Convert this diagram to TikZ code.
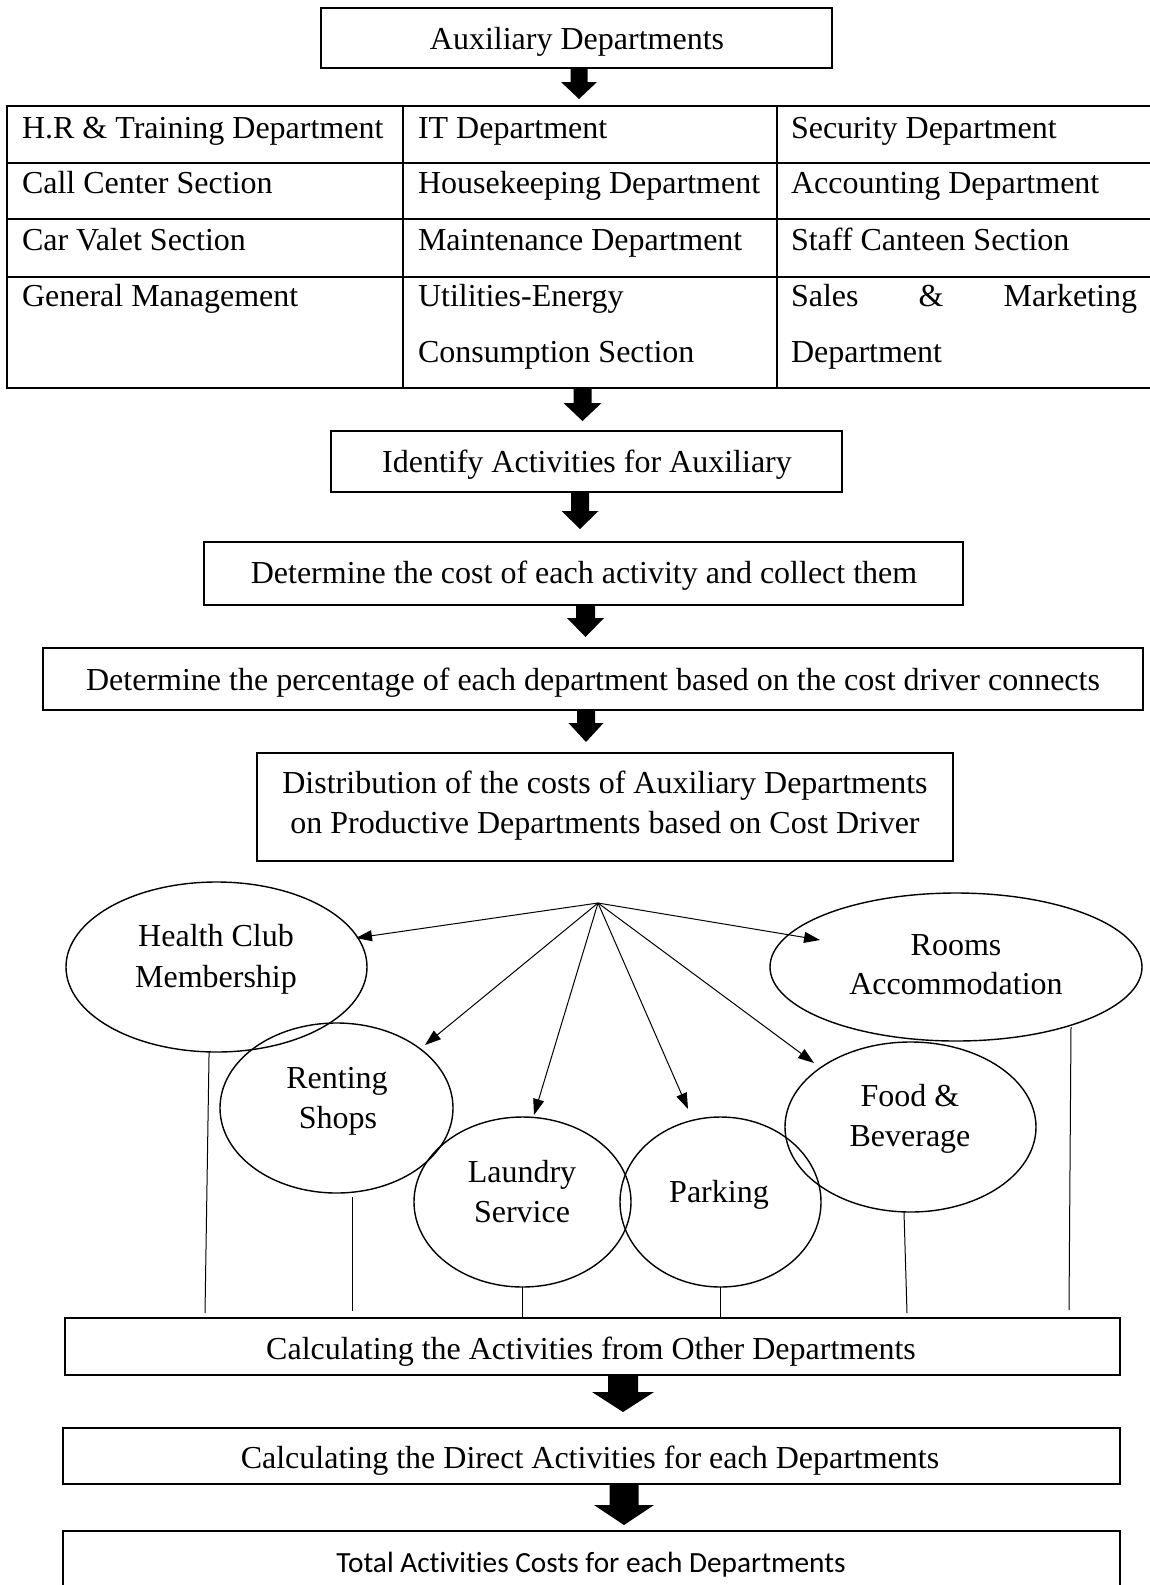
\documentclass[tikz,border=0pt]{standalone}
\usepackage{fontspec}
\setmainfont{Liberation Serif}
\newfontfamily\sansB[Ligatures=CommonOff]{Carlito}
\usetikzlibrary{shapes.geometric,arrows.meta,calc}
\tikzset{
  bx/.style={draw, line width=1pt, inner sep=0pt, outer sep=0pt, rectangle},
  ell/.style={draw, ellipse, line width=0.7pt, inner sep=0pt, outer sep=0pt},
  tx/.style={inner sep=0pt, outer sep=0pt, font=\fontsize{16pt}{20pt}\selectfont, anchor=base},
  tl/.style={tx, anchor=base west},
  thinarr/.style={line width=0.5pt, -{Triangle[length=8pt,width=5.5pt]}},
  thinln/.style={line width=0.5pt},
  gridln/.style={line width=1pt},
}
% #1 from node, #2 x centre, #3 head start y, #4 tip y, #5 half shaft, #6 half head
\newcommand{\blockarrow}[6]{%
  \coordinate (tmpx) at (#2,0);
  \fill ($(#1.south -| tmpx)+(-#5,0)$) -- (#2-#5,#3) -- (#2-#6,#3) -- (#2,#4)
     -- (#2+#6,#3) -- (#2+#5,#3) -- ($(#1.south -| tmpx)+(#5,0)$) -- cycle;}
\begin{document}
\begin{tikzpicture}[x=0.5pt,y=-0.5pt]
\useasboundingbox (0,0) rectangle (1150,1585);
\fill[white] (0,0) rectangle (1150,1585);

% top box
\node[bx, minimum width=255.5pt, minimum height=30pt] (aux) at (576.5,38) {};
\node[tx] (auxt) at (577,49) {Auxiliary Departments};

% table
\node[inner sep=0pt, outer sep=0pt, minimum width=576.5pt, minimum height=141pt] (table) at (583.5,247) {};
\draw[gridln] (1160,106) -- (7,106) -- (7,388) -- (1160,388);
\draw[gridln] (7,163) -- (1160,163) (7,219) -- (1160,219) (7,277) -- (1160,277);
\draw[gridln] (403,106) -- (403,388) (777,106) -- (777,388);
\node[tl] (c11) at (22,138) {H.R \& Training Department};
\node[tl] (c12) at (418,138) {IT Department};
\node[tl] (c13) at (791,138) {Security Department};
\node[tl] (c21) at (22,193) {Call Center Section};
\node[tl] (c22) at (418,193) {Housekeeping Department};
\node[tl] (c23) at (791,193) {Accounting Department};
\node[tl] (c31) at (22,250) {Car Valet Section};
\node[tl] (c32) at (418,250) {Maintenance Department};
\node[tl] (c33) at (791,250) {Staff Canteen Section};
\node[tl] (c41) at (22,306) {General Management};
\node[tl] (c42) at (418,306) {Utilities-Energy};
\node[tl] (c42b) at (418,362) {Consumption Section};
\node[tl] (c43) at (791,306) {\hbox to 173pt{Sales\hfill\&\hfill Marketing}};
\node[tl] (c43b) at (791,362) {Department};

% flow boxes
\node[bx, minimum width=255.5pt, minimum height=30.5pt] (ident) at (586.5,461.5) {};
\node[tx] (identt) at (587,472) {Identify Activities for Auxiliary};
\node[bx, minimum width=379.5pt, minimum height=31.5pt] (cost) at (583.5,573.5) {};
\node[tx] (costt) at (584,583) {Determine the cost of each activity and collect them};
\node[bx, minimum width=550pt, minimum height=31pt] (perc) at (593,679) {};
\node[tx] (perct) at (593,690) {Determine the percentage of each department based on the cost driver connects};
\node[bx, minimum width=348pt, minimum height=54pt] (dist) at (605,807) {};
\node[tx] (distt1) at (605,793) {Distribution of the costs of Auxiliary Departments};
\node[tx] (distt2) at (605,833) {on Productive Departments based on Cost Driver};

% block arrows
\blockarrow{aux}{579}{82}{99}{8.5}{18}
\blockarrow{table}{582.5}{403}{421}{9}{19}
\blockarrow{ident}{580}{511}{529}{9}{18.5}
\blockarrow{cost}{585.5}{618}{637}{9.5}{18.5}
\blockarrow{perc}{586}{723}{742}{9}{17.5}

% ellipses
\node[ell, minimum width=150.5pt, minimum height=85pt] (hc) at (216.5,967) {};
\node[tx] (hct1) at (216,946) {Health Club};
\node[tx] (hct2) at (216,987) {Membership};
\node[ell, minimum width=186pt, minimum height=74pt] (rooms) at (956,967) {};
\node[tx] (roomst1) at (956,955) {Rooms};
\node[tx] (roomst2) at (956,994) {Accommodation};
\node[ell, minimum width=116.5pt, minimum height=85pt] (rent) at (336.5,1108) {};
\node[tx] (rentt1) at (337,1088) {Renting};
\node[tx] (rentt2) at (338,1128) {Shops};
\node[ell, minimum width=108.5pt, minimum height=85pt] (laun) at (522.5,1202) {};
\node[tx] (launt1) at (522,1182) {Laundry};
\node[tx] (launt2) at (522,1222) {Service};
\node[ell, minimum width=100.5pt, minimum height=85pt] (park) at (720.5,1202) {};
\node[tx] (parkt) at (719,1202) {Parking};
\node[ell, minimum width=125.5pt, minimum height=85pt] (food) at (910.5,1127) {};
\node[tx] (foodt1) at (910,1106) {Food \&};
\node[tx] (foodt2) at (910,1146) {Beverage};

% hub arrows
\coordinate (hub) at (598,903);
\coordinate (tHC) at (356,938);
\coordinate (tRooms) at (820,940);
\coordinate (tRent) at (425,1045);
\coordinate (tLaun) at (534,1115);
\coordinate (tPark) at (688,1109);
\coordinate (tFood) at (814,1063);
\draw[thinarr] (hub) -- (tHC);
\draw[thinarr] (hub) -- (tRooms);
\draw[thinarr] (hub) -- (tRent);
\draw[thinarr] (hub) -- (tLaun);
\draw[thinarr] (hub) -- (tPark);
\draw[thinarr] (hub) -- (tFood);

% lower boxes
\node[bx, minimum width=527.5pt, minimum height=28.5pt] (other) at (592.5,1346.5) {};
\node[tx] (othert) at (591,1359) {Calculating the Activities from Other Departments};
\node[bx, minimum width=528.5pt, minimum height=28pt] (direct) at (591.5,1456) {};
\node[tx] (directt) at (590,1468) {Calculating the Direct Activities for each Departments};
\node[inner sep=0pt, outer sep=0pt, minimum width=528.5pt, minimum height=28pt] (total) at (591.5,1559) {};
\draw[gridln] (total.south west) |- (total.north east) -- (total.south east);
\node[inner sep=0pt, anchor=base, font=\sansB\fontsize{14.65pt}{18pt}\selectfont] (totalt) at (591,1572) {Total Activities Costs for each Departments};

% vertical lines
\coordinate (hcE) at (205,1313);
\coordinate (rentS) at (352,1197);
\coordinate (rentE) at (352,1311);
\coordinate (foodS) at (904,1212);
\coordinate (foodE) at (907,1313);
\coordinate (roomsS) at (1071,1027);
\coordinate (roomsE) at (1069,1310);
\draw[thinln] (hc.-95) -- (hcE);
\draw[thinln] (rentS) -- (rentE);
\draw[thinln] (laun.south) -- (laun.south |- other.north);
\draw[thinln] (park.south) -- (park.south |- other.north);
\draw[thinln] (foodS) -- (foodE);
\draw[thinln] (roomsS) -- (roomsE);

\blockarrow{other}{623}{1392}{1412}{15}{31}
\blockarrow{direct}{624}{1505}{1525}{14.5}{30}
\end{tikzpicture}
\end{document}
